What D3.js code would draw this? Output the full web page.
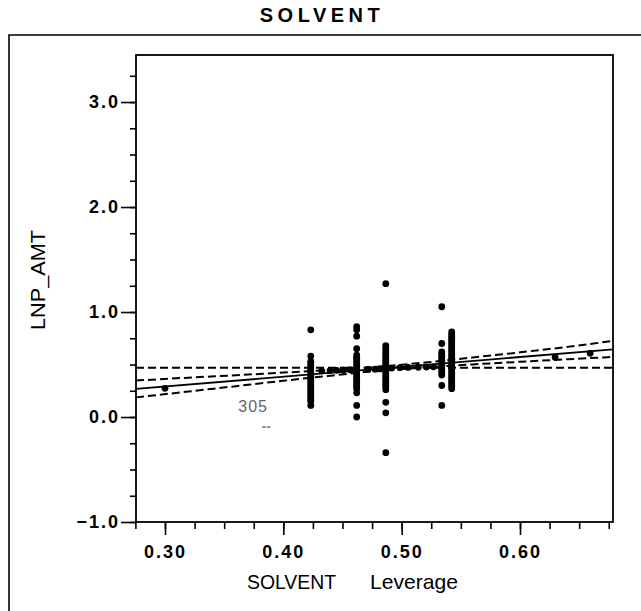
<!DOCTYPE html>
<html>
<head>
<meta charset="utf-8">
<script src="https://cdn.jsdelivr.net/npm/d3@7"></script>
<style>
  body { margin: 0; background: #fff; }
  svg { display: block; font-family: "Liberation Sans", Arial, sans-serif; }
</style>
</head>
<body>
<svg width="641" height="611"></svg>
<script>
// leverage columns: x position and the LNP_AMT values stacked on it
const columnX = [0.4232, 0.4620, 0.4866, 0.5339, 0.5423];
const columnY = [
  [0.83, 0.58, 0.53, 0.51, 0.49, 0.47, 0.45, 0.43, 0.41, 0.39, 0.37, 0.35, 0.33, 0.31, 0.29, 0.27, 0.25, 0.23, 0.21, 0.19, 0.17, 0.15, 0.11],
  [0.86, 0.83, 0.77, 0.65, 0.59, 0.57, 0.55, 0.53, 0.51, 0.49, 0.47, 0.45, 0.43, 0.41, 0.39, 0.37, 0.35, 0.33, 0.31, 0.29, 0.27, 0.23, 0.11, 0.00],
  [1.27, 0.68, 0.66, 0.64, 0.62, 0.60, 0.58, 0.56, 0.54, 0.52, 0.50, 0.48, 0.46, 0.44, 0.42, 0.40, 0.38, 0.36, 0.34, 0.32, 0.30, 0.28, 0.26, 0.14, 0.04, -0.34],
  [1.05, 0.70, 0.62, 0.60, 0.58, 0.56, 0.54, 0.52, 0.50, 0.48, 0.46, 0.44, 0.42, 0.40, 0.30, 0.11],
  [0.81, 0.79, 0.77, 0.75, 0.73, 0.71, 0.69, 0.67, 0.65, 0.63, 0.61, 0.59, 0.57, 0.55, 0.53, 0.51, 0.49, 0.47, 0.45, 0.43, 0.41, 0.39, 0.37, 0.35, 0.33, 0.31, 0.29, 0.27]
];

// single points lying along the fit
const looseX = [0.300, 0.4325, 0.4395, 0.4451, 0.4507, 0.4564, 0.4716, 0.4775, 0.4818, 0.4914, 0.4985, 0.5055, 0.5140, 0.5210, 0.5268, 0.6297, 0.6593];
const looseY = [0.273, 0.440, 0.442, 0.445, 0.447, 0.450, 0.454, 0.456, 0.458, 0.466, 0.470, 0.472, 0.474, 0.476, 0.478, 0.568, 0.607];

// fitted line, mean line and confidence curves
const fitX = [0.2755, 0.6786];
const fitY = [0.267, 0.645];
const meanY = 0.47;
const bandX = [0.2755, 0.32, 0.36, 0.40, 0.44, 0.48, 0.52, 0.56, 0.60, 0.64, 0.6786];
const bandUpper = [0.347, 0.375, 0.398, 0.423, 0.448, 0.479, 0.519, 0.567, 0.616, 0.668, 0.725];
const bandLower = [0.187, 0.243, 0.294, 0.345, 0.394, 0.439, 0.473, 0.501, 0.526, 0.550, 0.572];

const xTicks = [0.30, 0.40, 0.50, 0.60];
const yTicks = [-1.0, 0.0, 1.0, 2.0, 3.0];

var svg = d3.select("svg"),
    margin = {top: 55, left: 136, right: 28, bottom: 89},
    width = 641 - margin.left - margin.right,
    height = 611 - margin.top - margin.bottom;

// outer frame (runs off the page on right and bottom)
svg.append("path")
    .attr("d", "M9,611V35H641")
    .attr("fill", "none").attr("stroke", "#000").attr("stroke-width", 1.6);

svg.append("text")
    .attr("x", 322).attr("y", 22)
    .attr("text-anchor", "middle")
    .attr("font-size", 20).attr("font-weight", "bold")
    .attr("letter-spacing", 4.5)
    .text("SOLVENT");

var g = svg.append("g").attr("transform", "translate(" + margin.left + "," + margin.top + ")");

var x = d3.scaleLinear().domain([0.2755, 0.6786]).range([0, width]);
var y = d3.scaleLinear().domain([-1.0, 3.448]).range([height, 0]);

// minor ticks
g.append("g")
    .attr("transform", "translate(0," + height + ")")
    .call(d3.axisBottom(x).tickValues(d3.range(0.275, 0.68, 0.025)).tickSize(7).tickFormat(""))
    .call(a => a.select(".domain").remove());
g.append("g")
    .call(d3.axisLeft(y).tickValues(d3.range(-1, 3.3, 0.25)).tickSize(6).tickFormat(""))
    .call(a => a.select(".domain").remove());

// major ticks
var xa = g.append("g")
    .attr("transform", "translate(0," + height + ")")
    .call(d3.axisBottom(x).tickValues(xTicks).tickSize(13).tickPadding(10).tickFormat(d3.format(".2f")));
xa.select(".domain").remove();
xa.selectAll("text").attr("font-size", 18).attr("font-weight", "bold").attr("letter-spacing", 2).attr("fill", "#000");

var ya = g.append("g")
    .call(d3.axisLeft(y).tickValues(yTicks).tickSize(15).tickPadding(1).tickFormat(d3.format(".1f")));
ya.select(".domain").remove();
ya.selectAll("text").attr("font-size", 18).attr("font-weight", "bold").attr("letter-spacing", 2).attr("fill", "#000");

g.selectAll(".tick line").attr("stroke", "#000").attr("stroke-width", 1.6);

// plot frame
g.append("rect")
    .attr("width", width).attr("height", height)
    .attr("fill", "none").attr("stroke", "#000").attr("stroke-width", 1.8);

// mean line
g.append("line")
    .attr("x1", 0).attr("x2", width)
    .attr("y1", y(meanY)).attr("y2", y(meanY))
    .attr("stroke", "#000").attr("stroke-width", 2).attr("stroke-dasharray", "8,4");

var curve = d3.line().curve(d3.curveMonotoneX);
g.append("path")
    .attr("d", curve(bandX.map((d, i) => [x(d), y(bandUpper[i])])))
    .attr("fill", "none").attr("stroke", "#000").attr("stroke-width", 2).attr("stroke-dasharray", "8,4");
g.append("path")
    .attr("d", curve(bandX.map((d, i) => [x(d), y(bandLower[i])])))
    .attr("fill", "none").attr("stroke", "#000").attr("stroke-width", 2).attr("stroke-dasharray", "8,4");

g.append("path")
    .attr("d", d3.line()(fitX.map((d, i) => [x(d), y(fitY[i])])))
    .attr("fill", "none").attr("stroke", "#000").attr("stroke-width", 1.8);

// points
var pts = [];
columnX.forEach((cx, i) => columnY[i].forEach(v => pts.push([cx, v])));
looseX.forEach((d, i) => pts.push([d, looseY[i]]));

g.selectAll("circle.pt")
    .data(pts)
  .enter().append("circle")
    .attr("class", "pt")
    .attr("cx", d => x(d[0]))
    .attr("cy", d => y(d[1]))
    .attr("r", 3.4)
    .attr("fill", "#000");

// stray point label and mark from the original print
g.append("text")
    .attr("x", x(0.3745)).attr("y", y(0.045))
    .attr("text-anchor", "middle")
    .attr("font-size", 16).attr("fill", "#666")
    .attr("letter-spacing", 1)
    .text("305");
g.append("text")
    .attr("x", x(0.3855)).attr("y", y(-0.135))
    .attr("text-anchor", "middle")
    .attr("font-size", 14).attr("font-weight", "bold").attr("fill", "#888")
    .text("--");

// axis titles
svg.append("text")
    .attr("transform", "translate(45,280) rotate(-90)")
    .attr("text-anchor", "middle")
    .attr("font-size", 20)
    .attr("textLength", 100).attr("lengthAdjust", "spacingAndGlyphs")
    .text("LNP_AMT");

var xl = svg.append("text")
    .attr("y", 589)
    .attr("font-size", 21);
xl.append("tspan")
    .attr("x", 247)
    .attr("textLength", 89).attr("lengthAdjust", "spacingAndGlyphs")
    .text("SOLVENT");
xl.append("tspan")
    .attr("x", 370)
    .attr("textLength", 88).attr("lengthAdjust", "spacingAndGlyphs")
    .text("Leverage");
</script>
</body>
</html>
